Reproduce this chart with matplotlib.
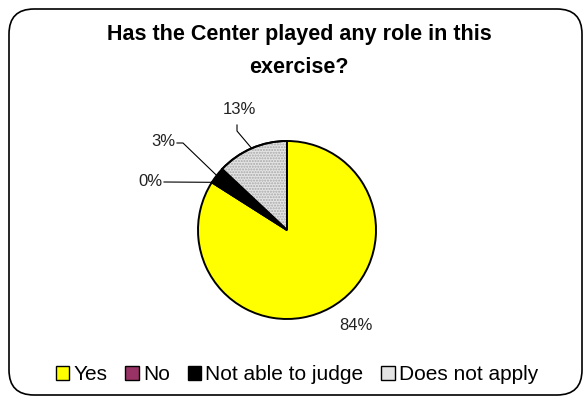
import numpy as np
import matplotlib.pyplot as plt
from matplotlib.patches import FancyBboxPatch, Wedge, Patch

plt.rcParams['font.family'] = ['Liberation Sans', 'DejaVu Sans']

# respostas (%)
categorias = ["Yes", "No", "Not able to judge", "Does not apply"]
valores = [84, 0, 3, 13]
cores = ["#ffff00", "#993366", "#000000", "#e4e4e4"]

titulo = "Has the Center played any role in this\nexercise?"

fig = plt.figure(figsize=(5.87, 3.98), dpi=100)
ax = fig.add_axes([0, 0, 1, 1])

# moldura arredondada
moldura = FancyBboxPatch((9, 3), 573, 386, boxstyle="round,pad=0,rounding_size=25",
                         fc="white", ec="black", lw=1.2, zorder=0)
ax.add_patch(moldura)

centro = (287, 168)
raio = 89
wedges, _ = ax.pie(valores, colors=cores, startangle=90, counterclock=False,
                   center=centro, radius=raio, frame=True,
                   wedgeprops=dict(edgecolor="black", linewidth=1.4))
ax.set_xlim(0, 587)
ax.set_ylim(0, 398)
ax.axis("off")

# pontilhado da fatia cinza
w = wedges[3]
ax.add_patch(Wedge(w.center, w.r, w.theta1, w.theta2, fc="none", ec="#a8a8a8",
                   lw=0, hatch="......", zorder=w.get_zorder() + 0.1))
ax.add_patch(Wedge(w.center, w.r, w.theta1, w.theta2, fc="none", ec="black",
                   lw=1.4, zorder=w.get_zorder() + 0.2))

# rótulos com linhas de chamada
pos_rotulos = {0: (356, 73), 1: (150, 217), 2: (163, 257), 3: (239, 288)}
for i, v in enumerate(valores):
    wd = wedges[i]
    ang = np.deg2rad((wd.theta1 + wd.theta2) / 2)
    borda = (centro[0] + raio * np.cos(ang), centro[1] + raio * np.sin(ang))
    tx, ty = pos_rotulos[i]
    ax.text(tx, ty, f"{v}%", fontsize=12, ha="center", va="center", color="#222222")
    if i == 1:
        ax.plot([tx + 14, borda[0]], [ty - 1, borda[1]], color="black", lw=0.8)
    elif i == 2:
        ax.plot([tx + 14, tx + 20, borda[0]], [ty - 2, ty - 2, borda[1]],
                color="black", lw=0.8)
    elif i == 3:
        ax.plot([tx - 2, tx - 2, borda[0]], [ty - 15, ty - 21, borda[1]],
                color="black", lw=0.8)

ax.text(299, 347, titulo, fontsize=15.5, fontweight="bold", ha="center", va="center",
        linespacing=1.8)

handles = [Patch(facecolor=c, edgecolor="black", lw=1) for c in cores]
leg = ax.legend(handles, categorias, loc="center", bbox_to_anchor=(297 / 587, 23 / 398),
                ncol=4, frameon=False, fontsize=15, handlelength=0.65, handleheight=0.65,
                handletextpad=0.2, columnspacing=0.85, borderpad=0)

fig.savefig("out.png", dpi=100)
